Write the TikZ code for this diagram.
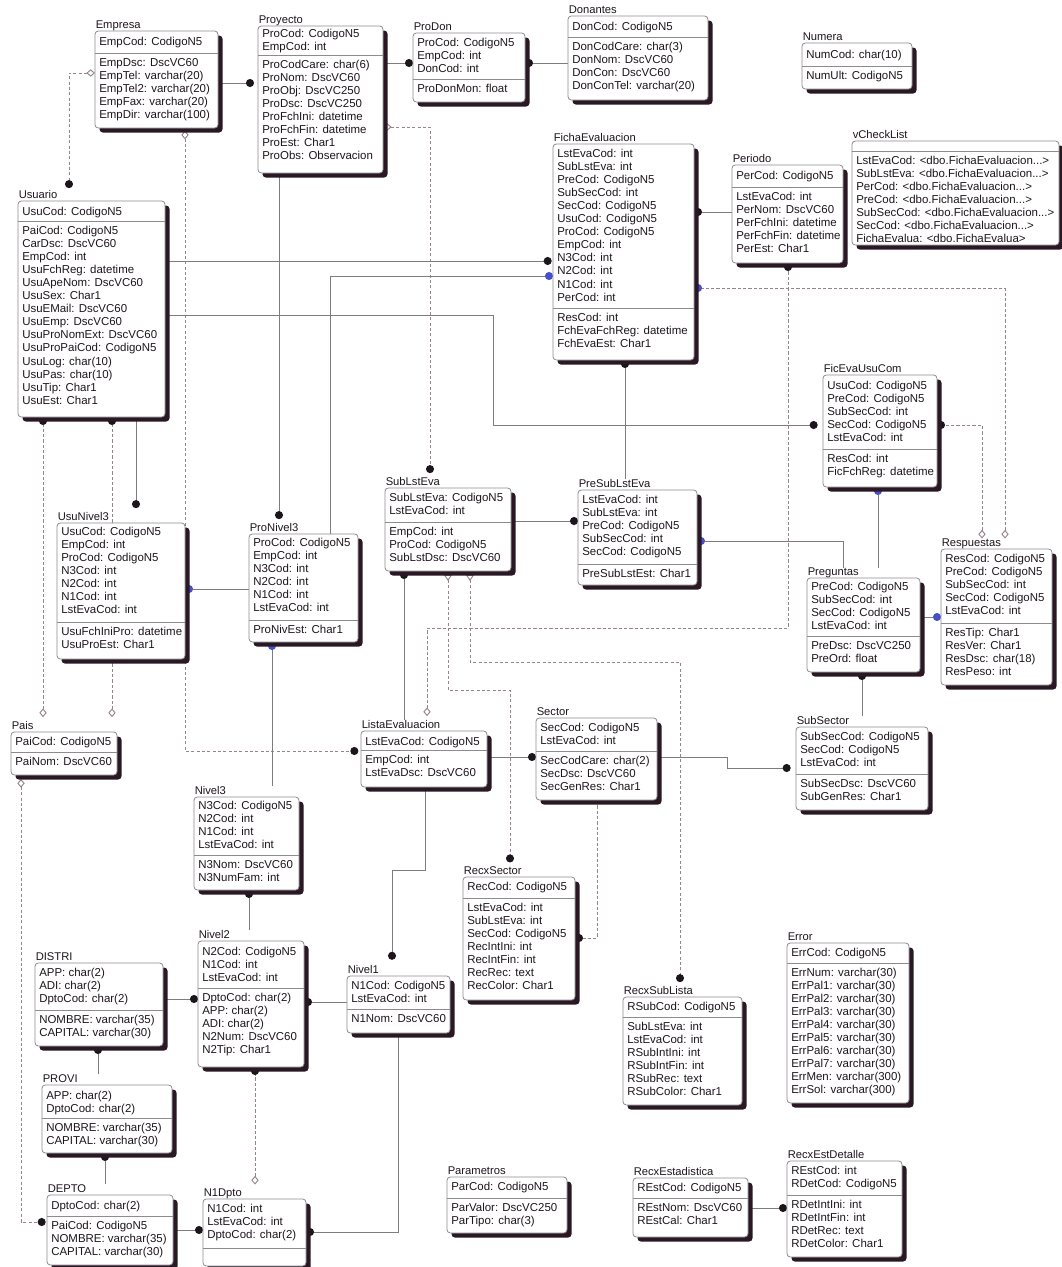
\documentclass[tikz,border=0pt]{standalone}
\usepackage{fontspec}
\setmainfont{Liberation Sans}
\usetikzlibrary{arrows.meta}

\definecolor{boxc}{RGB}{140,140,140}
\definecolor{shadc}{RGB}{42,24,36}
\definecolor{txtc}{RGB}{30,22,30}
\definecolor{linec}{RGB}{125,125,125}
\definecolor{dashc}{RGB}{150,132,140}
\definecolor{dotc}{RGB}{28,22,28}
\definecolor{bluec}{RGB}{72,80,200}

\pgfdeclarelayer{paper}
\pgfdeclarelayer{links}
\pgfsetlayers{paper,links,main}

\tikzset{
  ebox/.style={draw=boxc, fill=white, line width=0.6pt, rounded corners=2.5pt,
    anchor=north west, inner sep=0pt, outer sep=0pt},
  eshadow/.style={fill=shadc, rounded corners=2.5pt},
  etitle/.style={anchor=base west, inner sep=0pt, font=\fontsize{8.4pt}{9pt}\selectfont, text=txtc},
  erow/.style={anchor=west, inner sep=0pt, font=\fontsize{8.6pt}{10pt}\selectfont, text=txtc,
    text height=6.2pt, text depth=1.6pt},
  divline/.style={draw=boxc, line width=0.6pt},
  rel/.style={draw=linec, line width=0.75pt},
  nrel/.style={draw=dashc, line width=0.7pt, dash pattern=on 2.4pt off 1.6pt},
  pdot/.tip={Circle[length=6pt,color=dotc]},
  bdot/.tip={Circle[length=6pt,color=bluec]},
  odia/.tip={Diamond[length=6.5pt,width=5.5pt,color=dashc,fill=white]},
  ocrow/.tip={Triangle[open,reversed,length=4.5pt,width=6pt,color=dashc]},
}

\newcommand\edots{...}
\def\entgeom#1/#2/#3/#4\relax{\def\eX{#1}\def\eY{#2}\def\eW{#3}\def\eH{#4}}
% \ent{id}{x/y/w/h}{first key row}{first attribute row}{title}{keys}{attributes}
\newcommand\ent[7]{%
  \entgeom#2\relax
  \fill[eshadow] ({\eX+4.5},{\eY+4.5}) rectangle ++(\eW,\eH);
  \node[ebox, minimum width=\eW*0.75pt, minimum height=\eH*0.75pt] (#1) at (\eX,\eY) {};
  \node[etitle] (#1-t) at (\eX+0.5,\eY-2.5) {#5};
  \draw[divline] (\eX,#4-10) -- ++(\eW,0);
  \begin{scope}
    \clip (\eX,\eY) rectangle ++(\eW-1.5,\eH);
    \foreach \r [count=\i] in {#6} {\node[erow] (#1-k\i) at ({\eX+4},{#3+13.1*(\i-1)}) {\r};}
    \foreach \r [count=\i] in {#7} {\node[erow] (#1-a\i) at ({\eX+4},{#4+13.1*(\i-1)}) {\r};}
  \end{scope}
}

\begin{document}
\begin{tikzpicture}[x=0.75pt,y=-0.75pt]
\useasboundingbox (0,0) rectangle (1061,1267);
\begin{pgfonlayer}{paper}
\fill[white] (0,0) rectangle (1061,1267);
\end{pgfonlayer}

% ---------------- tables ----------------
\ent{empresa}{95/31/123/97}{42}{63}{Empresa}{EmpCod: CodigoN5}
  {EmpDsc: DscVC60,EmpTel: varchar(20),EmpTel2: varchar(20),EmpFax: varchar(20),EmpDir: varchar(100)}
\ent{proyecto}{258/26/125/147}{34}{65}{Proyecto}{ProCod: CodigoN5,EmpCod: int}
  {ProCodCare: char(6),ProNom: DscVC60,ProObj: DscVC250,ProDsc: DscVC250,ProFchIni: datetime,ProFchFin: datetime,ProEst: Char1,ProObs: Observacion}
\ent{prodon}{413/33/112/69}{43}{89}{ProDon}{ProCod: CodigoN5,EmpCod: int,DonCod: int}{ProDonMon: float}
\ent{donantes}{568/16/140/84}{27}{47}{Donantes}{DonCod: CodigoN5}
  {DonCodCare: char(3),DonNom: DscVC60,DonCon: DscVC60,DonConTel: varchar(20)}
\ent{numera}{802/43/110/46}{55}{76}{Numera}{NumCod: char(10)}{NumUlt: CodigoN5}
\ent{fichaeval}{553/144/141/216}{154}{318}{FichaEvaluacion}
  {LstEvaCod: int,SubLstEva: int,PreCod: CodigoN5,SubSecCod: int,SecCod: CodigoN5,UsuCod: CodigoN5,ProCod: CodigoN5,EmpCod: int,N3Cod: int,N2Cod: int,N1Cod: int,PerCod: int}
  {ResCod: int,FchEvaFchReg: datetime,FchEvaEst: Char1}
\ent{periodo}{732/165/111/98}{176}{197}{Periodo}{PerCod: CodigoN5}
  {LstEvaCod: int,PerNom: DscVC60,PerFchIni: datetime,PerFchFin: datetime,PerEst: Char1}
\ent{vcheck}{852/141/207/104}{150}{161}{vCheckList}{}
  {LstEvaCod: <dbo.FichaEvaluacion\edots>,SubLstEva: <dbo.FichaEvaluacion\edots>,PerCod: <dbo.FichaEvaluacion\edots>,PreCod: <dbo.FichaEvaluacion\edots>,SubSecCod: <dbo.FichaEvaluacion\edots>,SecCod: <dbo.FichaEvaluacion\edots>,FichaEvalua: <dbo.FichaEvalua>}
\ent{usuario}{18/201/147/216}{212}{231}{Usuario}{UsuCod: CodigoN5}
  {PaiCod: CodigoN5,CarDsc: DscVC60,EmpCod: int,UsuFchReg: datetime,UsuApeNom: DscVC60,UsuSex: Char1,UsuEMail: DscVC60,UsuEmp: DscVC60,UsuProNomExt: DscVC60,UsuProPaiCod: CodigoN5,UsuLog: char(10),UsuPas: char(10),UsuTip: Char1,UsuEst: Char1}
\ent{ficeva}{823/375/114/112}{386}{459}{FicEvaUsuCom}
  {UsuCod: CodigoN5,PreCod: CodigoN5,SubSecCod: int,SecCod: CodigoN5,LstEvaCod: int}
  {ResCod: int,FicFchReg: datetime}
\ent{usunivel3}{57/523/128/136}{532}{632}{UsuNivel3}
  {UsuCod: CodigoN5,EmpCod: int,ProCod: CodigoN5,N3Cod: int,N2Cod: int,N1Cod: int,LstEvaCod: int}
  {UsuFchIniPro: datetime,UsuProEst: Char1}
\ent{pronivel3}{249/534/109/108}{543}{630}{ProNivel3}
  {ProCod: CodigoN5,EmpCod: int,N3Cod: int,N2Cod: int,N1Cod: int,LstEvaCod: int}{ProNivEst: Char1}
\ent{sublsteva}{385/488/126/83}{498}{532}{SubLstEva}{SubLstEva: CodigoN5,LstEvaCod: int}
  {EmpCod: int,ProCod: CodigoN5,SubLstDsc: DscVC60}
\ent{presub}{578/490/119/95}{500}{574}{PreSubLstEva}
  {LstEvaCod: int,SubLstEva: int,PreCod: CodigoN5,SubSecCod: int,SecCod: CodigoN5}{PreSubLstEst: Char1}
\ent{preguntas}{807/578/113/94}{587}{646}{Preguntas}
  {PreCod: CodigoN5,SubSecCod: int,SecCod: CodigoN5,LstEvaCod: int}{PreDsc: DscVC250,PreOrd: float}
\ent{respuestas}{941/549/111/136}{559}{633}{Respuestas}
  {ResCod: CodigoN5,PreCod: CodigoN5,SubSecCod: int,SecCod: CodigoN5,LstEvaCod: int}
  {ResTip: Char1,ResVer: Char1,ResDsc: char(18),ResPeso: int}
\ent{subsector}{796/727/132/83}{737}{784}{SubSector}{SubSecCod: CodigoN5,SecCod: CodigoN5,LstEvaCod: int}
  {SubSecDsc: DscVC60,SubGenRes: Char1}
\ent{pais}{11/732/106/43}{742}{762}{Pais}{PaiCod: CodigoN5}{PaiNom: DscVC60}
\ent{listaeval}{361/731/126/56}{742}{760}{ListaEvaluacion}{LstEvaCod: CodigoN5}{EmpCod: int,LstEvaDsc: DscVC60}
\ent{sector}{536/718/121/82}{728}{761}{Sector}{SecCod: CodigoN5,LstEvaCod: int}
  {SecCodCare: char(2),SecDsc: DscVC60,SecGenRes: Char1}
\ent{nivel3}{194/797/105/93}{806}{865}{Nivel3}{N3Cod: CodigoN5,N2Cod: int,N1Cod: int,LstEvaCod: int}
  {N3Nom: DscVC60,N3NumFam: int}
\ent{recxsector}{463/877/112/123}{887}{908}{RecxSector}{RecCod: CodigoN5}
  {LstEvaCod: int,SubLstEva: int,SecCod: CodigoN5,RecIntIni: int,RecIntFin: int,RecRec: text,RecColor: Char1}
\ent{nivel2}{198/941/106/126}{952}{998}{Nivel2}{N2Cod: CodigoN5,N1Cod: int,LstEvaCod: int}
  {DptoCod: char(2),APP: char(2),ADI: char(2),N2Num: DscVC60,N2Tip: Char1}
\ent{nivel1}{347/976/103/57}{986}{1019}{Nivel1}{N1Cod: CodigoN5,LstEvaCod: int}{N1Nom: DscVC60}
\ent{distri}{35/963/128/83}{973}{1020}{DISTRI}{APP: char(2),ADI: char(2),DptoCod: char(2)}
  {NOMBRE: varchar(35),CAPITAL: varchar(30)}
\ent{provi}{42/1085/130/68}{1096}{1128}{PROVI}{APP: char(2),DptoCod: char(2)}
  {NOMBRE: varchar(35),CAPITAL: varchar(30)}
\ent{depto}{47/1195/126/70}{1206}{1226}{DEPTO}{DptoCod: char(2)}
  {PaiCod: CodigoN5,NOMBRE: varchar(35),CAPITAL: varchar(30)}
\ent{n1dpto}{203/1199/103/67}{1209}{1258}{N1Dpto}{N1Cod: int,LstEvaCod: int,DptoCod: char(2)}{}
\ent{recxsublista}{623/997/119/108}{1007}{1027}{RecxSubLista}{RSubCod: CodigoN5}
  {SubLstEva: int,LstEvaCod: int,RSubIntIni: int,RSubIntFin: int,RSubRec: text,RSubColor: Char1}
\ent{errtab}{787/943/122/160}{953}{973}{Error}{ErrCod: CodigoN5}
  {ErrNum: varchar(30),ErrPal1: varchar(30),ErrPal2: varchar(30),ErrPal3: varchar(30),ErrPal4: varchar(30),ErrPal5: varchar(30),ErrPal6: varchar(30),ErrPal7: varchar(30),ErrMen: varchar(300),ErrSol: varchar(300)}
\ent{parametros}{447/1177/120/56}{1187}{1208}{Parametros}{ParCod: CodigoN5}{ParValor: DscVC250,ParTipo: char(3)}
\ent{recxestad}{633/1178/115/59}{1188}{1208}{RecxEstadistica}{REstCod: CodigoN5}{REstNom: DscVC60,REstCal: Char1}
\ent{recxestdet}{787/1161/115/96}{1171}{1205}{RecxEstDetalle}{REstCod: int,RDetCod: CodigoN5}
  {RDetIntIni: int,RDetIntFin: int,RDetRec: text,RDetColor: Char1}

% ---------------- relationships (drawn beneath the tables) ----------------
\begin{pgfonlayer}{links}
\draw[rel, -pdot, shorten >=3pt] (empresa.east |- 0,83) -- (proyecto.west |- 0,83);
\draw[nrel, odia-pdot, shorten >=1.5pt] (empresa.west |- 0,73) -| (usuario-t.north -| 69,0);
\draw[nrel, odia-pdot, shorten >=2pt, shorten <=2pt] (empresa.south -| 185,0) |- (listaeval.west |- 0,751);
\draw[rel, -pdot] (proyecto.east |- 0,63) -- (prodon.west |- 0,63);
\draw[rel, -pdot] (donantes.west |- 0,63) -- (prodon.east |- 0,63);
\draw[rel, -pdot, shorten >=3pt] (proyecto.south -| 279,0) -- (pronivel3-t.north -| 279,0);
\draw[nrel, odia-pdot, shorten >=3pt] (proyecto.east |- 0,127) -| (sublsteva-t.north -| 430,0);
\draw[rel, -pdot, shorten >=1pt] (usuario.east |- 0,261) -- (fichaeval.west |- 0,261);
\draw[rel, -bdot] (pronivel3.north -| 330,0) |- (fichaeval.west |- 0,276);
\draw[rel, -pdot, shorten >=4pt] (usuario.east |- 0,315) -- (493,315) -- (493,425) -- (ficeva.west |- 0,425);
\draw[rel, -pdot] (periodo.west |- 0,212) -- (fichaeval.east |- 0,212);
\draw[nrel, odia-bdot] (respuestas-t.north -| 1005,0) |- (fichaeval.east |- 0,288);
\draw[nrel, odia-pdot] (respuestas-t.north -| 982,0) |- (ficeva.east |- 0,425);
\draw[nrel, odia-pdot, shorten <=3pt] (listaeval-t.north -| 427,0) -- (427,628) -| (periodo.south -| 788,0);
\draw[nrel, ocrow-pdot, shorten <=3pt, shorten >=3pt] (sublsteva.south -| 448,0) -- (448,690) -| (recxsector-t.north -| 510,0);
\draw[nrel, ocrow-pdot, shorten <=3pt, shorten >=3pt] (sublsteva.south -| 470,0) -- (470,662) -| (recxsublista-t.north -| 680,0);
\draw[rel, -pdot] (sublsteva.east |- 0,521) -- (presub.west |- 0,521);
\draw[rel, -pdot] (presub-t.north -| 625,0) -- (fichaeval.south -| 625,0);
\draw[rel, -pdot, shorten >=3pt] (usuario.south -| 136,0) -- (usunivel3-t.north -| 136,0);
\draw[nrel, odia-pdot, shorten <=3pt] (pais-t.north -| 43,0) -- (usuario.south -| 43,0);
\draw[nrel, odia-pdot, shorten <=3pt] (pais-t.north -| 112,0) -- (usuario.south -| 112,0);
\draw[rel, -bdot] (pronivel3.west |- 0,589) -- (usunivel3.east |- 0,589);
\draw[nrel, odia-pdot, shorten <=3pt, shorten >=1pt] (pais.south -| 21,0) |- (depto.west |- 0,1222);
\draw[rel, -pdot] (distri.east |- 0,999) -- (nivel2.west |- 0,999);
\draw[rel, -pdot] (provi-t.north -| 98,0) -- (distri.south -| 98,0);
\draw[rel, -pdot] (depto-t.north -| 105,0) -- (provi.south -| 105,0);
\draw[rel, -pdot] (depto.east |- 0,1230) -- (n1dpto.west |- 0,1230);
\draw[nrel, odia-pdot, shorten <=3pt] (n1dpto-t.north -| 255,0) -- (nivel2.south -| 255,0);
\draw[rel, -pdot] (nivel1.south -| 398,0) |- (n1dpto.east |- 0,1232);
\draw[rel, -pdot] (nivel1.west |- 0,1002) -- (nivel2.east |- 0,1002);
\draw[rel, -pdot] (nivel2-t.north -| 249,0) -- (nivel3.south -| 249,0);
\draw[rel, -bdot] (nivel3-t.north -| 272,0) -- (pronivel3.south -| 272,0);
\draw[rel, -pdot, shorten >=4pt] (listaeval.south -| 425,0) -- (425,870) -| (nivel1-t.north -| 392,0);
\draw[rel, -pdot] (listaeval.east |- 0,757) -- (sector.west |- 0,757);
\draw[rel, -pdot, shorten >=4pt] (sector.east |- 0,757) -- (727,757) |- (subsector.west |- 0,768);
\draw[nrel, -pdot] (sector.south -| 597,0) |- (recxsector.east |- 0,938);
\draw[rel, -pdot] (subsector-t.north -| 862,0) -- (preguntas.south -| 862,0);
\draw[rel, -bdot] (preguntas-t.north -| 878,0) -- (ficeva.south -| 878,0);
\draw[rel, -bdot] (preguntas-t.north -| 843,0) |- (presub.east |- 0,541);
\draw[rel, -bdot] (preguntas.east |- 0,617) -- (respuestas.west |- 0,617);
\draw[rel, -pdot] (recxestad.east |- 0,1208) -- (recxestdet.west |- 0,1208);
\draw[rel, -pdot] (listaeval-t.north -| 404,0) -- (sublsteva.south -| 404,0);
\end{pgfonlayer}
\end{tikzpicture}
\end{document}
